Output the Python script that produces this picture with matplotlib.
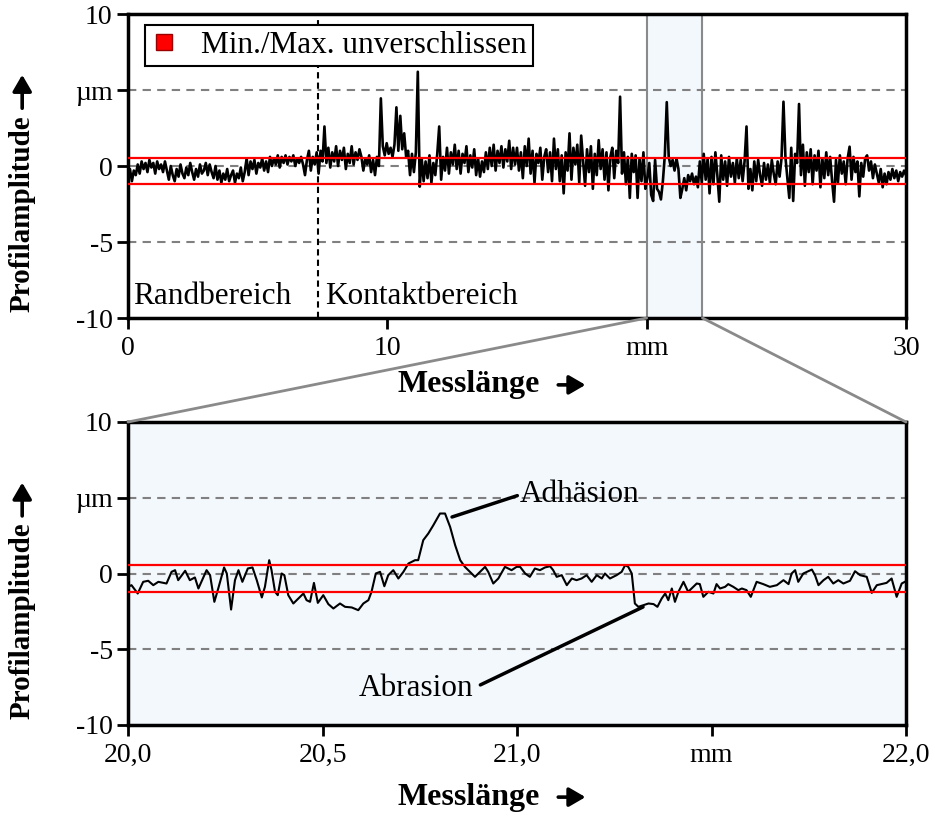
import numpy as np
import matplotlib
matplotlib.use("Agg")
import matplotlib.pyplot as plt
from matplotlib.patches import ConnectionPatch
from matplotlib.lines import Line2D

plt.rcParams['font.family'] = ['Liberation Serif', 'DejaVu Serif']

# ---------------- data ----------------
# overview profile, 0 ... 30 mm (µm)
profil_top = [
    -0.9, -0.2, -1.0, -0.3, -0.6, 0.1, -0.5, 0.3, -0.2, 0.2, -0.4, 0.4, -0.1, 0.2, -0.5, 0.3, -0.2, 0.1, -0.4, 0.3,
    -0.3, -0.9, 0.0, -0.6, -1.0, -0.2, -0.7, 0.1, -0.5, -0.8, -0.1, -0.6, 0.2, -0.4, -0.9, -0.2, -0.7, 0.1, -0.5, -0.3,
    0.2, -0.6, 0.1, -0.4, -0.8, 0.0, -0.9, -0.3, -1.1, -0.5, -0.9, -0.2, -1.0, -0.6, -0.3, -1.1, -0.5, -0.8, -0.1, -1.0,
    -0.4, 0.5, -0.6, 0.3, -0.2, 0.4, -0.5, 0.2, -0.1, 0.5, -0.3, 0.3, -0.4, 0.6, 0.0, 0.5, 0.1, 0.7, -0.1, 0.6,
    0.2, 0.7, 0.1, 0.6, 0.3, 0.7, 0.0, 0.5, 0.2, 0.6, 0.1, -0.6, 0.4, 1.0, -0.3, 0.6, 0.1, 0.9, -0.5, 1.0,
    0.3, 2.6, 0.2, 1.2, -0.1, 0.9, 0.3, 1.3, 0.0, 1.0, 0.4, 1.2, -0.2, 0.8, 0.2, 1.3, 0.1, 0.9, 0.4, 1.1,
    0.6, -0.3, 0.5, 0.1, 0.7, -0.4, 0.4, -0.6, 0.6, 0.0, 4.45, 1.3, 0.7, 1.5, 0.8, 1.2, 0.6, 1.4, 3.86, 1.0,
    3.3, 1.1, 2.15, 0.6, 1.0, -0.6, 0.8, -0.4, 0.9, 6.2, -1.36, 0.5, -1.0, 0.3, -0.8, 0.7, -1.1, 0.2, -0.6, 0.8,
    2.6, -0.9, 0.6, -0.3, 1.2, -0.5, 0.9, 0.1, 1.4, -0.2, 1.0, -0.5, 0.8, 0.2, 1.3, -0.4, 0.7, -0.1, 1.1, -0.6,
    0.5, -0.7, 0.3, -0.4, 0.9, -0.2, 1.2, 0.0, 1.4, -0.3, 1.0, 0.2, 1.3, -0.1, 1.1, 0.3, 1.66, -0.2, 1.2, 0.1,
    1.2, -0.3, 0.9, -0.8, 1.3, 0.0, 1.8, -0.5, 1.0, -1.1, 0.8, 0.2, 1.2, -0.9, 0.6, 1.1, -0.4, 0.9, -1.0, 1.8,
    -0.2, 1.1, -1.0, 0.7, -1.8, 0.9, -0.3, 2.15, -0.9, 1.2, 0.1, 1.4, -1.1, 2.0, 0.3, -1.3, 1.1, -0.4, 1.3, -1.5,
    0.8, -0.6, 1.7, -0.2, 1.1, -0.9, 0.9, -1.6, 0.6, 1.2, -0.8, 1.0, 0.2, 4.56, -0.5, 0.9, -1.2, 0.6, -2.1, 0.8,
    -0.4, 0.7, -2.1, 0.5, -1.0, 0.9, -1.5, -0.8, 0.2, -1.9, -2.3, 0.4, -1.5, -1.7, -2.2, -1.0, 0.7, 4.2, 0.6, 0.0,
    0.4, -0.3, 0.5, -0.2, -2.1, -1.5, -0.8, -1.6, -0.6, -1.0, -0.5, -1.2, -0.7, -1.4, 0.3, -1.1, 0.8, -0.9, 0.5, -1.8,
    0.6, -1.2, 0.9, -0.6, -2.35, 0.7, -0.9, 0.3, -1.3, 0.6, -0.7, 0.2, -1.1, 0.5, -0.8, 0.4, -1.0, 0.3, 2.6, -1.5,
    -0.2, -1.6, 0.3, -1.0, 0.4, -0.6, -1.3, 0.2, -0.9, 0.1, -1.1, 0.4, -0.5, -1.2, 0.3, -0.7, 0.5, 4.23, 0.6, -0.8,
    -2.1, 1.2, -2.3, 0.8, 0.2, 4.08, -0.6, 1.4, -1.3, 0.9, -0.4, 1.1, -1.2, 0.7, -0.3, 1.0, -1.4, 0.5, -0.8, 0.9,
    -0.6, 0.6, -1.0, -2.35, 0.4, -1.1, 0.7, -0.5, 0.3, -1.2, 0.5, 1.27, -0.9, 0.6, -0.4, 0.3, -2.0, 0.2, -0.7, 0.5,
    0.7, -0.3, 0.3, -0.8, 0.1, -0.5, -1.1, -0.2, -1.4, -0.5, -1.2, -0.4, -0.9, -0.2, -0.8, -0.3, -1.0, -0.4, -0.7, -0.3,
    -0.6,
]
messlaenge_top = np.linspace(0.0, 30.0, len(profil_top))

# detail profile, 20 ... 22 mm
messlaenge_detail = [
    20.000, 20.009, 20.025, 20.039, 20.052, 20.065, 20.078, 20.091, 20.099, 20.112,
    20.121, 20.129, 20.147, 20.159, 20.172, 20.181, 20.202, 20.211, 20.222, 20.232,
    20.247, 20.254, 20.265, 20.275, 20.284, 20.294, 20.308, 20.320, 20.331, 20.344,
    20.352, 20.363, 20.369, 20.378, 20.385, 20.395, 20.402, 20.412, 20.425, 20.438,
    20.451, 20.459, 20.468, 20.478, 20.488, 20.502, 20.515, 20.528, 20.545, 20.558,
    20.575, 20.592, 20.605, 20.618, 20.626, 20.637, 20.648, 20.659, 20.669, 20.682,
    20.695, 20.708, 20.721, 20.738, 20.746, 20.759, 20.772, 20.785, 20.802, 20.815,
    20.828, 20.841, 20.854, 20.866, 20.879, 20.892, 20.905, 20.918, 20.926, 20.939,
    20.952, 20.969, 20.986, 20.999,
    21.008, 21.021, 21.033, 21.046, 21.059, 21.072, 21.085, 21.093, 21.102, 21.115,
    21.128, 21.141, 21.153, 21.166, 21.179, 21.192, 21.205, 21.218, 21.226, 21.239,
    21.256, 21.269, 21.278, 21.286, 21.295, 21.303, 21.312, 21.325, 21.338, 21.351,
    21.361, 21.372, 21.381, 21.389, 21.398, 21.406, 21.415, 21.428, 21.440, 21.453,
    21.462, 21.470, 21.479, 21.492, 21.505, 21.513, 21.522, 21.535, 21.543, 21.556,
    21.569, 21.578, 21.590, 21.601, 21.616, 21.633, 21.650, 21.668, 21.685, 21.698,
    21.706, 21.715, 21.723, 21.736, 21.758, 21.766, 21.775, 21.788, 21.800, 21.813,
    21.826, 21.839, 21.856, 21.869, 21.882, 21.899, 21.912, 21.925, 21.937, 21.950,
    21.963, 21.976, 21.989, 21.997,
]
profil_detail = [
    -0.88, -0.77, -1.32, -0.55, -0.48, -0.77, -0.55, -0.62, -0.66, 0.11,
    0.22, -0.44, 0.18, -0.44, -0.26, -0.99, 0.22, -0.11, -1.87, -0.99,
    0.40, 0.00, -2.38, -0.44, 0.22, -0.55, 0.33, 0.40, -0.44, -1.58,
    -0.88, 0.88, 0.22, -1.21, -1.43, 0.00, -0.11, -1.43, -1.98, -1.65,
    -1.32, -1.76, -1.87, -0.62, -1.94, -1.43, -2.02, -2.31, -1.98, -2.20,
    -2.24, -2.42, -1.98, -1.76, -1.21, 0.00, 0.11, -0.84, -0.11, 0.22,
    -0.33, 0.11, 0.66, 0.88, 0.88, 2.20, 2.64, 3.19, 3.96, 3.96,
    3.08, 1.87, 0.88, 0.44, 0.11, -0.22, 0.11, 0.44, 0.11, -0.66,
    -0.33, 0.44, 0.22, 0.44,
    0.44, 0.00, -0.22, 0.33, 0.22, 0.40, 0.48, 0.22, -0.22, -0.11,
    -0.77, -0.33, -0.44, -0.33, -0.11, -0.55, -0.11, -0.33, 0.00, -0.33,
    -0.11, 0.11, 0.55, 0.44, 0.00, -1.98, -2.20, -2.09, -1.98, -2.02,
    -2.20, -1.65, -1.32, -1.76, -0.99, -1.87, -1.21, -0.55, -1.21, -0.88,
    -0.66, -0.70, -1.54, -1.21, -1.32, -0.70, -0.99, -0.88, -0.70, -0.88,
    -1.10, -0.99, -1.10, -1.54, -0.55, -0.70, -0.88, -0.77, -0.44, -0.70,
    0.00, 0.22, -0.55, 0.00, 0.26, -0.11, -0.77, -0.44, -0.22, -0.66,
    -0.44, -0.66, -0.48, 0.15, -0.11, -0.22, -1.28, -0.77, -0.70, -0.62,
    -0.33, -1.54, -0.66, -0.55,
]

grenze_max = 0.55    # µm
grenze_min = -1.2    # µm
grenze_rand = 7.33   # mm, Rand/Kontakt
zoom_bereich = (20.0, 22.15)

y_ticks = [10, 5, 0, -5, -10]
y_ticklabels = ['10', 'µm', '0', '-5', '-10']
x_ticks_top = [0, 10, 20, 30]
x_ticklabels_top = ['0', '10', 'mm', '30']
x_ticks_detail = [20.0, 20.5, 21.0, 21.5, 22.0]
x_ticklabels_detail = ['20,0', '20,5', '21,0', 'mm', '22,0']

# ---------------- style ----------------
W, H = 935, 816
fig = plt.figure(figsize=(W / 100, H / 100), dpi=100)

def axrect(l, t, r, b):
    return [l / W, 1 - b / H, (r - l) / W, (b - t) / H]

ax1 = fig.add_axes(axrect(128, 14, 906, 318))
ax2 = fig.add_axes(axrect(128, 422, 906, 725))

shade = '#f3f8fd'
tick_fs = 20
ylab_fs = 21
xlab_fs = 23
txt_fs = 22.5

arrow_kw = dict(arrowstyle='-|>,head_length=0.55,head_width=0.32', color='black',
                lw=2.6, mutation_scale=18, shrinkA=0, shrinkB=0)

for ax, ylab in ((ax1, -0.22), (ax2, -0.238)):
    for sp in ax.spines.values():
        sp.set_linewidth(2.5)
        sp.set_color('black')
    ax.set_ylim(-10, 10)
    ax.set_yticks(y_ticks)
    ax.set_yticklabels(y_ticklabels, fontsize=tick_fs)
    ax.tick_params(axis='both', direction='out', length=8, width=2, pad=5)
    ax.tick_params(axis='y', pad=3)
    for yv in (5, 0, -5):
        ax.axhline(yv, color='#808080', lw=1.5, ls=(0, (4, 3)), zorder=1)
    ax.axhline(grenze_max, color='red', lw=1.6, zorder=4)
    ax.axhline(grenze_min, color='red', lw=1.6, zorder=4)
    # y axis label + arrow
    ax.text(-0.136, 0.02, 'Profilamplitude', rotation=90, transform=ax.transAxes,
            ha='center', va='bottom', fontsize=ylab_fs, fontweight='bold')
    ax.annotate('', xy=(-0.136, 0.80), xytext=(-0.136, 0.69), xycoords='axes fraction',
                textcoords='axes fraction', arrowprops=arrow_kw, annotation_clip=False)
    # x axis label + arrow
    ax.text(0.346, ylab, 'Messlänge', transform=ax.transAxes,
            ha='left', va='center', fontsize=xlab_fs, fontweight='bold')
    ax.annotate('', xy=(0.588, ylab), xytext=(0.553, ylab), xycoords='axes fraction',
                textcoords='axes fraction', arrowprops=arrow_kw, annotation_clip=False)

# top
ax1.set_xlim(0, 30)
ax1.set_xticks(x_ticks_top)
ax1.set_xticklabels(x_ticklabels_top, fontsize=tick_fs)
ax1.axvspan(*zoom_bereich, color=shade, zorder=0)
for xv in zoom_bereich:
    ax1.axvline(xv, color='#8a8a8a', lw=1.5, zorder=1)
ax1.axvline(grenze_rand, color='black', lw=1.5, ls=(0, (3, 2)), zorder=2)
ax1.plot(messlaenge_top, profil_top, color='black', lw=1.9, zorder=3)
ax1.text(0.2, -8.6, 'Randbereich', fontsize=txt_fs, va='center', ha='left')
ax1.text(7.6, -8.6, 'Kontaktbereich', fontsize=txt_fs, va='center', ha='left')

h = Line2D([], [], ls='none', marker='s', markersize=11, markerfacecolor='red',
           markeredgecolor='#990000', markeredgewidth=1)
leg = ax1.legend([h], ['Min./Max. unverschlissen'], loc='upper left',
                 bbox_to_anchor=(0.022, 0.964), borderaxespad=0, fontsize=txt_fs,
                 fancybox=False, framealpha=1, edgecolor='black',
                 handlelength=0.8, handletextpad=0.8, borderpad=0.2)
leg.get_frame().set_linewidth(1.5)
leg.set_zorder(6)

# bottom
ax2.set_facecolor(shade)
ax2.set_xlim(20, 22)
ax2.set_xticks(x_ticks_detail)
ax2.set_xticklabels(x_ticklabels_detail, fontsize=tick_fs)
ax2.plot(messlaenge_detail, profil_detail, color='black', lw=1.5, zorder=3)

ax2.annotate('Adhäsion', xy=(20.833, 3.73), xytext=(21.008, 5.2),
             fontsize=txt_fs, va='center', ha='left',
             arrowprops=dict(arrowstyle='-', color='black', lw=2.5, shrinkA=0, shrinkB=0,
                             relpos=(0, 0.5)))
ax2.annotate('Abrasion', xy=(21.324, -2.21), xytext=(20.889, -7.56),
             fontsize=txt_fs, va='center', ha='right',
             arrowprops=dict(arrowstyle='-', color='black', lw=2.5, shrinkA=3, shrinkB=0,
                             relpos=(1, 0.5)))

for xa, xb in ((zoom_bereich[0], 20.0), (zoom_bereich[1], 22.0)):
    con = ConnectionPatch(xyA=(xa, -10), coordsA=ax1.transData,
                          xyB=(xb, 10), coordsB=ax2.transData,
                          color='#8a8a8a', lw=2)
    fig.add_artist(con)

fig.savefig('out.png', dpi=100)
